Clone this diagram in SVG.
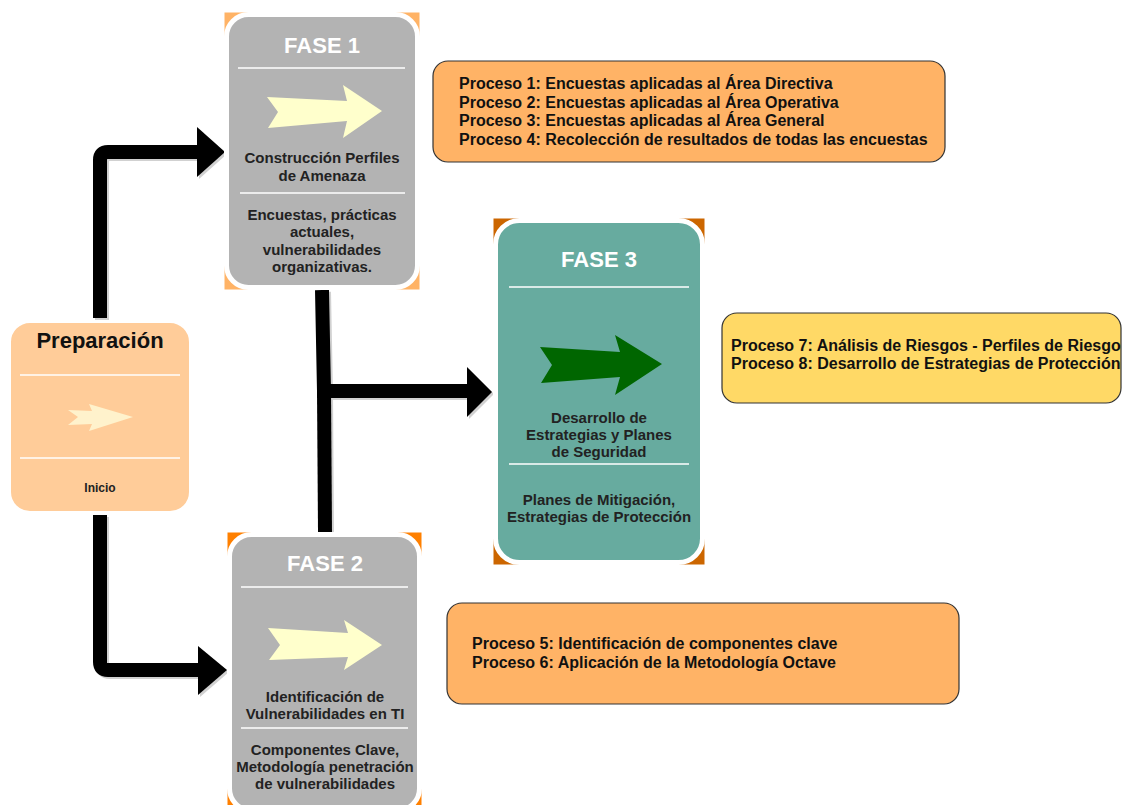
<svg xmlns="http://www.w3.org/2000/svg" width="1124" height="805" viewBox="0 0 1124 805">
<style>
text{font-family:"Liberation Sans",Arial,sans-serif;font-weight:bold}
.hdr{font-size:22px;fill:#ffffff;text-anchor:middle}
.body{font-size:15px;fill:#222222;text-anchor:middle}
.proc{font-size:16px;fill:#111111}
.sep{stroke:#ffffff;stroke-width:1.5}
.card{stroke:#ffffff;stroke-width:5}
.conn{fill:none;stroke:#000000;stroke-width:14}
.shadow{fill:none;stroke:#9a9a9a;stroke-width:14;opacity:0.45}
.pbox{stroke:#333333;stroke-width:1.2}
</style>
<rect width="1124" height="805" fill="#ffffff"/>

<g id="connectors">
  <g transform="translate(2,2)">
    <path class="shadow" d="M100,318 L100,160 Q100,152 108,152 L199,152"/>
    <polygon points="197,127 225,152 197,177" fill="#9a9a9a" opacity="0.45"/>
    <path class="shadow" d="M100,515 L100,662 Q100,670 108,670 L200,670"/>
    <polygon points="198,646 227,670 198,695" fill="#9a9a9a" opacity="0.45"/>
    <path class="shadow" d="M322,290 L324,391 L468,391 M325,532 L324,391"/>
    <polygon points="467,367 492,392 467,417" fill="#9a9a9a" opacity="0.45"/>
  </g>
  <path class="conn" d="M100,318 L100,160 Q100,152 108,152 L199,152"/>
  <polygon points="197,127 225,152 197,177" fill="#000"/>
  <path class="conn" d="M100,515 L100,662 Q100,670 108,670 L200,670"/>
  <polygon points="198,646 227,670 198,695" fill="#000"/>
  <path class="conn" d="M322,290 L324,391 L468,391"/>
  <path class="conn" d="M325,532 L324,391"/>
  <polygon points="467,367 492,392 467,417" fill="#000"/>
</g>

<g id="preparacion">
  <rect x="10" y="322" width="180" height="190" rx="20" fill="#FFCC99" stroke="#ffffff" stroke-width="2"/>
  <text x="100" y="348" style="font-size:22px;fill:#111;text-anchor:middle">Preparación</text>
  <line class="sep" x1="20" y1="375" x2="180" y2="375"/>
  <polygon points="68,410 92,411 89,404 133,417 89,431 92,424 68,425 78,417" fill="#FFF2CC"/>
  <line class="sep" x1="20" y1="458" x2="180" y2="458"/>
  <text x="100" y="492" style="font-size:12px;fill:#222;text-anchor:middle">Inicio</text>
</g>

<g id="fase1">
  <rect x="224.5" y="12.5" width="195" height="277" fill="#FFB366"/>
  <rect class="card" x="226.5" y="14.5" width="191" height="273" rx="22" fill="#B3B3B3"/>
  <text class="hdr" x="322" y="53">FASE 1</text>
  <line class="sep" x1="238" y1="68" x2="405" y2="68"/>
  <polygon points="267,97 347,101 343,85 382,111 343,138 347,121 268,128 278,112" fill="#FFFFCC"/>
  <text class="body" x="322" y="163">Construcción Perfiles</text>
  <text class="body" x="322" y="181">de Amenaza</text>
  <line class="sep" x1="240" y1="193" x2="405" y2="193"/>
  <text class="body" x="322" y="220">Encuestas, prácticas</text>
  <text class="body" x="322" y="237">actuales,</text>
  <text class="body" x="322" y="255">vulnerabilidades</text>
  <text class="body" x="322" y="272">organizativas.</text>
</g>

<g id="fase2">
  <rect x="227.5" y="532.5" width="194" height="276" fill="#FF8000"/>
  <rect class="card" x="229.5" y="534.5" width="190" height="276" rx="22" fill="#B3B3B3"/>
  <text class="hdr" x="325" y="571">FASE 2</text>
  <line class="sep" x1="241" y1="587" x2="408" y2="587"/>
  <polygon points="268,628 348,633 344,620 382,645 344,670 348,657 269,660 280,645" fill="#FFFFCC"/>
  <text class="body" x="325" y="702">Identificación de</text>
  <text class="body" x="325" y="719">Vulnerabilidades en TI</text>
  <line class="sep" x1="241" y1="728" x2="408" y2="728"/>
  <text class="body" x="325" y="755">Componentes Clave,</text>
  <text class="body" x="325" y="772">Metodología penetración</text>
  <text class="body" x="325" y="789">de vulnerabilidades</text>
</g>

<g id="fase3">
  <rect x="493.5" y="218.5" width="211" height="346" fill="#CC6600"/>
  <rect class="card" x="495.5" y="220.5" width="207" height="342" rx="24" fill="#67AB9F"/>
  <text class="hdr" x="599" y="267">FASE 3</text>
  <line class="sep" x1="509" y1="287" x2="689" y2="287"/>
  <polygon points="540,347 620,352 615,335 662,364 615,395 620,377 541,383 552,365" fill="#006600"/>
  <text class="body" x="599" y="423">Desarrollo de</text>
  <text class="body" x="599" y="440">Estrategias y Planes</text>
  <text class="body" x="599" y="457">de Seguridad</text>
  <line class="sep" x1="509" y1="464" x2="689" y2="464"/>
  <text class="body" x="599" y="505">Planes de Mitigación,</text>
  <text class="body" x="599" y="522">Estrategias de Protección</text>
</g>

<g id="procesos1-4">
  <rect class="pbox" x="433" y="61" width="512" height="101" rx="15" fill="#FFB366"/>
  <text class="proc" x="459" y="89">Proceso 1: Encuestas aplicadas al Área Directiva</text>
  <text class="proc" x="459" y="107.5">Proceso 2: Encuestas aplicadas al Área Operativa</text>
  <text class="proc" x="459" y="126">Proceso 3: Encuestas aplicadas al Área General</text>
  <text class="proc" x="459" y="144.5">Proceso 4: Recolección de resultados de todas las encuestas</text>
</g>

<g id="procesos7-8">
  <rect class="pbox" x="722" y="313" width="399" height="90" rx="15" fill="#FFD966"/>
  <text class="proc" x="731" y="351">Proceso 7: Análisis de Riesgos - Perfiles de Riesgo</text>
  <text class="proc" x="731" y="369">Proceso 8: Desarrollo de Estrategias de Protección</text>
</g>

<g id="procesos5-6">
  <rect class="pbox" x="447" y="603" width="512" height="101" rx="15" fill="#FFB366"/>
  <text class="proc" x="472" y="649">Proceso 5: Identificación de componentes clave</text>
  <text class="proc" x="472" y="668">Proceso 6: Aplicación de la Metodología Octave</text>
</g>
</svg>
